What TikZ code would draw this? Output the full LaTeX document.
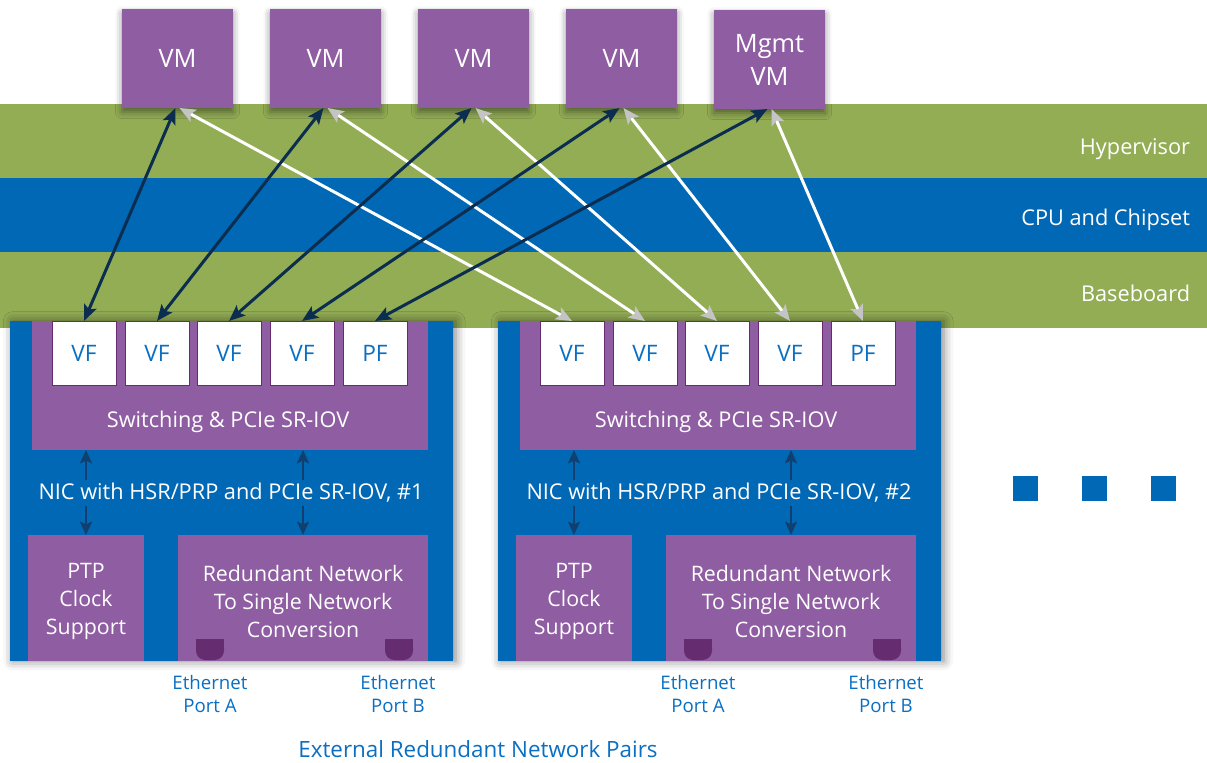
\documentclass[tikz,border=0pt]{standalone}
\usepackage{fontspec}
\setmainfont{Open Sans}
\usepackage{xcolor}
\usetikzlibrary{arrows.meta,positioning,shadows.blur}

\definecolor{vmpurple}{HTML}{8F5DA2}
\definecolor{portpurple}{HTML}{652D6F}
\definecolor{bandgreen}{HTML}{93AD55}
\definecolor{intelblue}{HTML}{0068B5}
\definecolor{textblue}{HTML}{0A6FC2}
\definecolor{darklink}{HTML}{0B2D4F}
\definecolor{nicarrow}{HTML}{10406F}
\definecolor{headgray}{HTML}{C4C4C4}

\begin{document}
\begin{tikzpicture}[x=0.75pt,y=-0.75pt,
  box/.style={inner sep=0pt,outer sep=0pt},
  vmbox/.style={box,fill=vmpurple,text=white,minimum width=83.25pt,minimum height=74.25pt,align=center,
    font=\fontsize{19pt}{24.75pt}\selectfont,
    blur shadow={shadow xshift=0pt,shadow yshift=-3pt,shadow blur radius=5pt,shadow opacity=45}},
  nicbox/.style={box,fill=intelblue,minimum width=332.25pt,minimum height=255pt,
    blur shadow={shadow xshift=2pt,shadow yshift=0pt,shadow blur radius=7pt,shadow opacity=50}},
  swbox/.style={box,fill=vmpurple,minimum width=297pt,minimum height=96.75pt},
  vfbox/.style={box,fill=white,draw=portpurple,line width=0.75pt,minimum width=48pt,minimum height=48pt,
    text=textblue,font=\fontsize{17pt}{20pt}\selectfont},
  funcbox/.style={box,fill=vmpurple,minimum height=94.5pt},
  ftext/.style={text=white,align=center,font=\fontsize{16pt}{21pt}\selectfont},
  port/.style={box,fill=portpurple,minimum width=21pt,minimum height=15.75pt,rounded corners=7pt},
  wtext/.style={text=white,inner sep=2pt,font=\fontsize{16.3pt}{20pt}\selectfont},
  btext/.style={text=textblue,align=center,font=\fontsize{14pt}{17.25pt}\selectfont},
  dot/.style={box,fill=intelblue,minimum size=18.75pt},
  vmlink/.style={line width=2.25pt,darklink,{Stealth[length=12pt,width=10pt,inset=2.5pt]}-{Stealth[length=12pt,width=10pt,inset=2.5pt]}},
  vmlinkw/.style={line width=2.25pt,white,{Stealth[length=12pt,width=10pt,inset=2.5pt,color=headgray]}-{Stealth[length=12pt,width=10pt,inset=2.5pt,color=headgray]}},
  niclink/.style={line width=1.8pt,nicarrow,-{Stealth[length=10pt,width=9pt,inset=2pt]}}]
\useasboundingbox (0,0) rectangle (1207,763);

% Layers
\fill[bandgreen] (0,104) rectangle (1207,178);
\fill[intelblue] (0,178) rectangle (1207,252);
\fill[bandgreen] (0,252) rectangle (1207,328);
\node[wtext,anchor=east] (hyp) at (1193,149) {Hypervisor};
\node[wtext,anchor=east] (cpu) at (1193,220) {CPU and Chipset};
\node[wtext,anchor=east] (base) at (1193,293) {Baseboard};

% Virtual machines
\foreach \i/\x in {1/177.5,2/325.5,3/473.5,4/621.5}
  \node[vmbox] (vm\i) at (\x,58.5) {VM};
\node[vmbox] (mgmt) at (769.5,59.5) {Mgmt\\VM};

% NIC cards
\foreach \n/\dx/\k in {a/0/1,b/488/2}{
  \node[nicbox] (nic\n) at (\dx+231.5,491) {};
  \node[swbox] (sw\n) at (\dx+230,385.5) {};
  \foreach \j/\x in {1/84,2/157,3/229,4/302}
    \node[vfbox] (vf\n\j) at (\dx+\x,353) {VF};
  \node[vfbox] (pf\n) at (\dx+375,353) {PF};
  \node[wtext] (swl\n) at (\dx+228,422) {Switching \& PCIe SR-IOV};
  \node[funcbox,minimum width=87pt] (ptp\n) at (\dx+86,598) {};
  \node[funcbox,minimum width=187.5pt] (red\n) at (\dx+303,598) {};
  \node[ftext] (ptpl\n) at (\dx+86,601) {PTP\\Clock\\Support};
  \node[ftext] (redl\n) at (\dx+303,601) {Redundant Network\\To Single Network\\Conversion};
  % ports
  \node[port] (pa\n) at (\dx+210,649.5) {};
  \node[port] (pb\n) at (\dx+399,649.5) {};
  \fill[portpurple] (pa\n.west) rectangle (pa\n.north east);
  \fill[portpurple] (pb\n.west) rectangle (pb\n.north east);
  \node[btext] (ea\n) at (\dx+210,693.5) {Ethernet\\Port A};
  \node[btext] (eb\n) at (\dx+398,693.5) {Ethernet\\Port B};
  \node[wtext] (nl\n) at (\dx+231,493) {NIC with HSR/PRP and PCIe SR-IOV, \#\k};
  \draw[niclink] (nl\n.north -| ptp\n) -- (sw\n.south -| ptp\n);
  \draw[niclink] (nl\n.south -| ptp\n) -- (ptp\n.north);
  \draw[niclink] (nl\n.north -| red\n) -- (sw\n.south -| red\n);
  \draw[niclink] (nl\n.south -| red\n) -- (red\n.north);
}

% VM to function links
\foreach \i in {1,2,3,4}{
  \draw[vmlink] ([xshift=-1.5pt]vm\i.south) -- (vfa\i.north);
  \draw[vmlinkw] ([xshift=1.5pt]vm\i.south) -- (vfb\i.north);
}
\draw[vmlink] ([xshift=-1.5pt]mgmt.south) -- (pfa.north);
\draw[vmlinkw] ([xshift=1.5pt]mgmt.south) -- (pfb.north);

% More NICs
\node[dot] (d1) at (1025.5,488.5) {};
\node[dot] (d2) at (1094.5,488.5) {};
\node[dot] (d3) at (1163.5,488.5) {};

\node[text=textblue,font=\fontsize{16.8pt}{20pt}\selectfont] (ext) at (478,749) {External Redundant Network Pairs};
\end{tikzpicture}
\end{document}
